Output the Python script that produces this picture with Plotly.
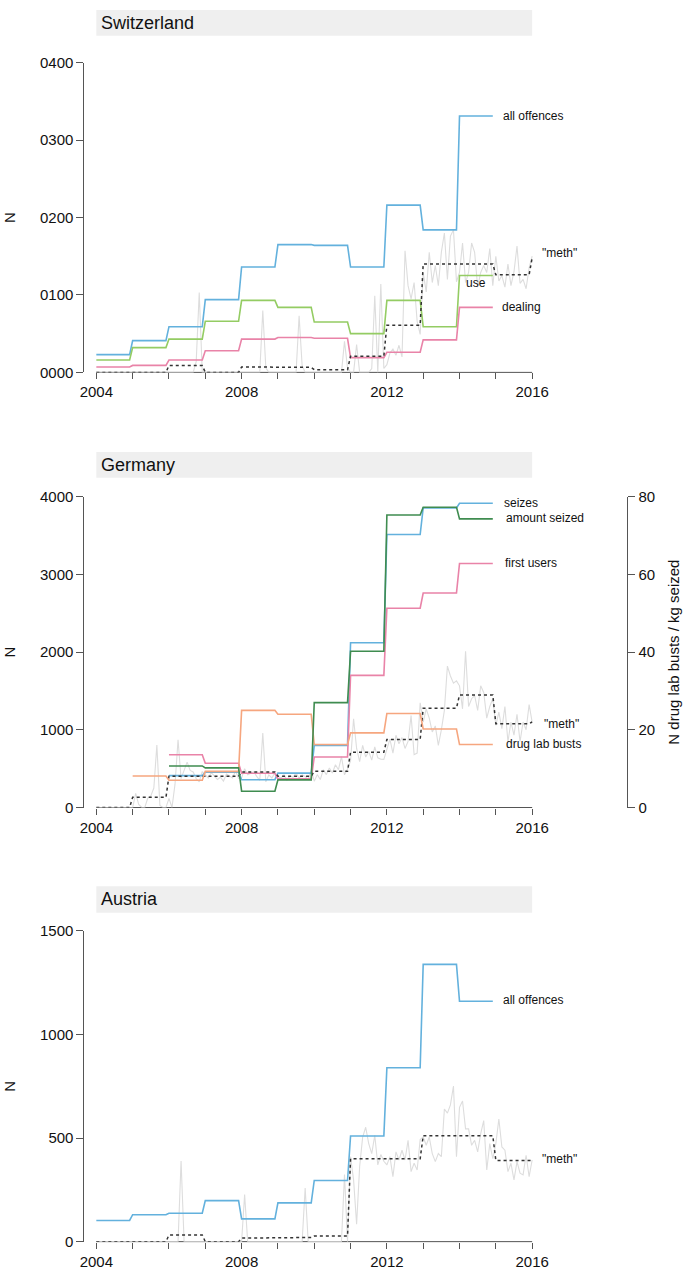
import plotly.graph_objects as go

# ---------------- data ----------------
axis_years = list(range(2004, 2017))
x_tick_text = ["2004", "", "", "", "2008", "", "", "", "2012", "", "", "", "2016"]
meth_years = list(range(2004, 2017))          # last year has a single (January) value

# Switzerland
ch_years = list(range(2004, 2015))
ch_all_offences = [23, 41, 59, 94, 136, 165, 164, 136, 216, 184, 331]
ch_use = [16, 32, 43, 66, 93, 84, 65, 50, 93, 59, 125]
ch_dealing = [7, 9, 16, 28, 43, 45, 44, 19, 26, 42, 84]
ch_meth_mean = [0, 0, 9, 0, 7, 6.5, 3.5, 21, 61, 140, 140, 126, 148]
ch_meth_by_year = [
    [0] * 12,
    [0] * 12,
    [0, 0, 0, 0, 0, 0, 0, 0, 0, 14, 103, 0],
    [0] * 12,
    [0, 0, 0, 0, 0, 0, 0, 80, 6, 0, 0, 0],
    [0, 0, 0, 0, 0, 0, 0, 73, 9, 0, 0, 0],
    [0, 0, 0, 0, 0, 0, 0, 0, 0, 0, 40, 6],
    [0, 0, 36, 0, 0, 0, 0, 5, 99, 0, 114, 5],
    [10, 25, 30, 22, 35, 20, 157, 112, 95, 116, 66, 49],
    [129, 104, 155, 116, 138, 112, 155, 180, 120, 176, 184, 117],
    [129, 167, 116, 129, 167, 155, 110, 129, 138, 129, 160, 112],
    [150, 118, 125, 110, 140, 112, 130, 163, 115, 120, 108, 135],
    [150],
]
ch_y_ticks = [0, 100, 200, 300, 400]
ch_y_ticktext = ["0000", "0100", "0200", "0300", "0400"]

# Germany
de_years = list(range(2006, 2015))
de_seizes = [410, 453, 358, 442, 800, 2120, 3513, 3856, 3915]
de_first_users = [679, 569, 440, 368, 650, 1700, 2565, 2760, 3141]
de_amount_kg = [10.7, 10.2, 4.2, 7.1, 27.0, 40.2, 75.3, 77.3, 74.3]
de_lab_years = list(range(2005, 2015))
de_lab_busts = [8.1, 7.0, 9.3, 25.0, 24.0, 16.2, 19.2, 24.2, 20.2, 16.2]
de_meth_mean = [0, 131, 402, 402, 457, 402, 466, 711, 876, 1278, 1448, 1079, 1100]
de_meth_by_year = [
    [0] * 12,
    [0, 182, 40, 0, 0, 120, 150, 250, 804, 26, 0, 0],
    [118, 0, 300, 872, 372, 478, 584, 478, 457, 372, 330, 463],
    [420, 380, 450, 400, 360, 390, 340, 430, 410, 380, 470, 374],
    [380, 500, 420, 440, 460, 400, 350, 957, 330, 420, 380, 447],
    [400, 380, 420, 350, 410, 390, 440, 380, 420, 400, 360, 474],
    [339, 423, 360, 487, 423, 508, 444, 550, 487, 656, 420, 495],
    [600, 1143, 760, 590, 800, 650, 720, 610, 780, 640, 620, 619],
    [760, 880, 700, 930, 820, 900, 760, 850, 1185, 680, 700, 1347],
    [1100, 1270, 1150, 973, 1050, 800, 1000, 1250, 1820, 1693, 1600, 1630],
    [1566, 1270, 2010, 1300, 1400, 1439, 1250, 1566, 1481, 1150, 1300, 1400],
    [1058, 1227, 1016, 1300, 846, 1100, 931, 1200, 846, 1100, 1000, 1324],
    [1100],
]
de_y_ticks = [0, 1000, 2000, 3000, 4000]
de_y2_ticks = [0, 20, 40, 60, 80]

# Austria
at_years = list(range(2004, 2015))
at_all_offences = [102, 130, 137, 198, 110, 187, 295, 510, 839, 1338, 1160]
at_meth_mean = [0, 0, 32, 0, 17, 20, 27, 400, 400, 511, 511, 392, 392]
at_meth_by_year = [
    [0] * 12,
    [0] * 12,
    [0, 0, 0, 0, 389, 0, 0, 0, 0, 0, 0, 0],
    [0] * 12,
    [0, 227, 0, 0, 0, 0, 0, 0, 0, 0, 0, 0],
    [0, 0, 0, 0, 0, 0, 0, 0, 0, 259, 0, 0],
    [0, 0, 0, 0, 0, 0, 0, 0, 0, 0, 324, 0],
    [410, 298, 84, 362, 505, 552, 473, 425, 513, 370, 420, 388],
    [370, 410, 314, 433, 394, 441, 394, 489, 338, 378, 346, 493],
    [505, 465, 505, 425, 386, 425, 410, 640, 620, 660, 751, 410],
    [648, 679, 544, 544, 465, 489, 433, 521, 584, 346, 473, 400],
    [473, 592, 457, 441, 338, 378, 298, 386, 330, 322, 417, 314],
    [394],
]
at_y_ticks = [0, 500, 1000, 1500]

# ---------------- styling / geometry ----------------
FONT = "Liberation Sans, Arial, Helvetica, sans-serif"
W, H = 689, 1274
BLUE = "#63B1DD"
GREEN = "#94CC63"
PINK = "#E983A8"
DKGREEN = "#3F8C50"
ORANGE = "#F6A67F"
GREY = "#DDDDDD"
DOT = "#333333"
AXC = "#555555"

X_LEFT_PX, X_RIGHT_PX = 80, 627
PX_2004, PX_2016 = 92, 531
ppy = (PX_2016 - PX_2004) / (axis_years[-1] - axis_years[0])
x_range = [axis_years[0] - (PX_2004 - X_LEFT_PX) / ppy,
           axis_years[-1] + (X_RIGHT_PX - PX_2016) / ppy]
x_domain = [X_LEFT_PX / W, X_RIGHT_PX / W]


def pf(px):
    return 1 - px / H


# (y of zero px, y of top px, bar top px, bar bottom px)
geo = [(368.3, 54.3, 1, 27), (809.3, 494.3, 449, 475), (1249.3, 934.3, 889, 916)]


def monthly(start_years, values, single_last=False):
    xs, ys = [], []
    for i, (yr, v) in enumerate(zip(start_years, values)):
        n = 1 if (single_last and i == len(values) - 1) else 12
        for m in range(n):
            xs.append(yr + m / 12)
            ys.append(v)
    return xs, ys


def raw(by_year):
    xs, ys = [], []
    for yr, vals in zip(meth_years, by_year):
        for m, v in enumerate(vals):
            xs.append(yr + m / 12)
            ys.append(v)
    return xs, ys


fig = go.Figure()


def add_line(xs, ys, color, xa, ya, width=1.6, dash="solid"):
    fig.add_trace(go.Scatter(x=xs, y=ys, mode="lines", xaxis=xa, yaxis=ya,
                             line=dict(color=color, width=width, dash=dash),
                             hoverinfo="skip", showlegend=False))


# Switzerland
add_line(*raw(ch_meth_by_year), GREY, "x", "y", width=1.1)
add_line(*monthly(ch_years, ch_all_offences), BLUE, "x", "y")
add_line(*monthly(ch_years, ch_use), GREEN, "x", "y")
add_line(*monthly(ch_years, ch_dealing), PINK, "x", "y")
add_line(*monthly(meth_years, ch_meth_mean, True), DOT, "x", "y", width=1.5, dash="dot")

# Germany
add_line(*raw(de_meth_by_year), GREY, "x2", "y2", width=1.1)
add_line(*monthly(de_years, de_seizes), BLUE, "x2", "y2")
add_line(*monthly(de_years, de_first_users), PINK, "x2", "y2")
add_line(*monthly(meth_years, de_meth_mean, True), DOT, "x2", "y2", width=1.5, dash="dot")
add_line(*monthly(de_lab_years, de_lab_busts), ORANGE, "x2", "y4")
add_line(*monthly(de_years, de_amount_kg), DKGREEN, "x2", "y4")

# Austria
add_line(*raw(at_meth_by_year), GREY, "x3", "y3", width=1.1)
add_line(*monthly(at_years, at_all_offences), BLUE, "x3", "y3")
add_line(*monthly(meth_years, at_meth_mean, True), DOT, "x3", "y3", width=1.5, dash="dot")

tickfont = dict(family=FONT, size=15, color="#111")


def xaxis_cfg(anchor):
    return dict(domain=x_domain, range=x_range, anchor=anchor, showgrid=False,
                zeroline=False, showline=False, ticks="outside", ticklen=6,
                tickcolor=AXC, tickwidth=1, tickvals=axis_years, ticktext=x_tick_text,
                tickfont=tickfont, fixedrange=True)


def yaxis_cfg(anchor, g, rng, tv, tt=None):
    d = dict(domain=[pf(g[0]), pf(g[1])], range=rng, anchor=anchor, showgrid=False,
             zeroline=False, showline=True, linecolor=AXC, linewidth=1,
             ticks="outside", ticklen=7, tickcolor=AXC, tickwidth=1,
             tickvals=tv, tickfont=tickfont, fixedrange=True,
             title=dict(text="N", font=dict(family=FONT, size=15, color="#111"), standoff=20))
    if tt is not None:
        d["ticktext"] = tt
    return d


fig.update_layout(
    width=W, height=H, margin=dict(l=0, r=0, t=0, b=0),
    paper_bgcolor="white", plot_bgcolor="white",
    font=dict(family=FONT, color="#111"),
    xaxis=xaxis_cfg("y"), xaxis2=xaxis_cfg("y2"), xaxis3=xaxis_cfg("y3"),
    yaxis=yaxis_cfg("x", geo[0], [0, 400], ch_y_ticks, ch_y_ticktext),
    yaxis2=yaxis_cfg("x2", geo[1], [0, 4000], de_y_ticks),
    yaxis3=yaxis_cfg("x3", geo[2], [0, 1500], at_y_ticks),
    yaxis4=dict(overlaying="y2", side="right", anchor="x2", range=[0, 80],
                showgrid=False, zeroline=False, showline=True, linecolor=AXC, linewidth=1,
                ticks="outside", ticklen=7, tickcolor=AXC, tickwidth=1,
                tickvals=de_y2_ticks, tickfont=tickfont, fixedrange=True,
                title=dict(text="N drug lab busts / kg seized",
                           font=dict(family=FONT, size=15, color="#111"), standoff=14)),
)

shapes = []
annotations = []
panel_names = ["Switzerland", "Germany", "Austria"]
for i, (name, g) in enumerate(zip(panel_names, geo)):
    xr = "x" if i == 0 else f"x{i + 1}"
    yr = "y" if i == 0 else f"y{i + 1}"
    # header bar
    shapes.append(dict(type="rect", xref=xr, yref="paper", x0=axis_years[0], x1=axis_years[-1],
                       y0=pf(g[3]), y1=pf(g[2]), fillcolor="#EFEFEF", line=dict(width=0),
                       layer="below"))
    annotations.append(dict(xref=xr, yref="paper", x=axis_years[0], y=pf((g[2] + g[3]) / 2),
                            text=name, showarrow=False, xanchor="left", yanchor="middle",
                            xshift=3, font=dict(family=FONT, size=18, color="#111")))
    # x axis line spanning first to last year
    shapes.append(dict(type="line", xref=xr, yref=f"{yr} domain", x0=axis_years[0],
                       x1=axis_years[-1], y0=0, y1=0, line=dict(color=AXC, width=1),
                       layer="below"))

lab_font = dict(family=FONT, size=12, color="#111")
labels = [
    ("x", "y", 2015.15, ch_all_offences[-1], "all offences", "left"),
    ("x", "y", 2016.22, 154, '"meth"', "left"),
    ("x", "y", 2014.45, 116, "use", "center"),
    ("x", "y", 2015.12, ch_dealing[-1], "dealing", "left"),
    ("x2", "y2", 2015.17, 3925, "seizes", "left"),
    ("x2", "y2", 2015.22, 3722, "amount seized", "left"),
    ("x2", "y2", 2015.2, de_first_users[-1], "first users", "left"),
    ("x2", "y2", 2016.28, 1071, '"meth"', "left"),
    ("x2", "y2", 2015.22, 815, "drug lab busts", "left"),
    ("x3", "y3", 2015.15, 1165, "all offences", "left"),
    ("x3", "y3", 2016.22, 398, '"meth"', "left"),
]
for xr, yr, x, y, t, anc in labels:
    annotations.append(dict(xref=xr, yref=yr, x=x, y=y, text=t, showarrow=False,
                            xanchor=anc, yanchor="middle", font=lab_font))

fig.update_layout(shapes=shapes, annotations=annotations)
fig.write_html("out.html", config={"displayModeBar": False},
               post_script="document.body.style.margin='0px';document.body.style.overflow='hidden';")
